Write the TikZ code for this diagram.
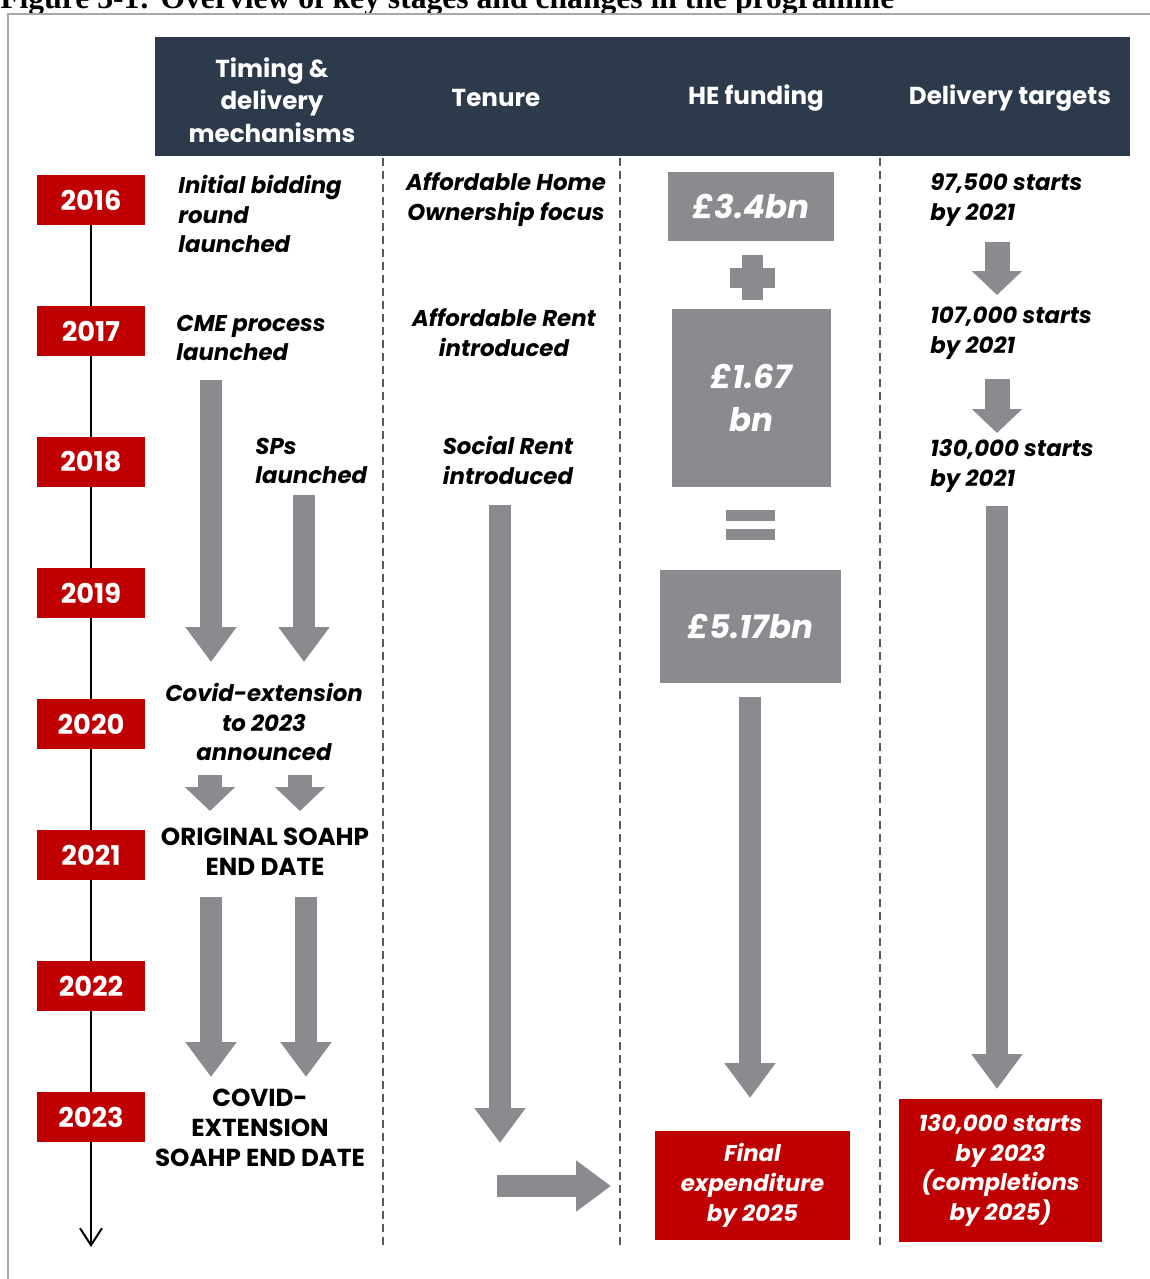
\documentclass[tikz,border=0pt]{standalone}
\usepackage{fontspec}
\setmainfont{Poppins}
\newfontfamily\titlefont{Liberation Serif}
\usetikzlibrary{arrows.meta, positioning}

\definecolor{hdrblue}{HTML}{2C3A4C}
\definecolor{yearred}{HTML}{C00000}
\definecolor{boxgrey}{HTML}{8A8B8F}
\definecolor{framegrey}{HTML}{A8A8A8}

\begin{document}
\begin{tikzpicture}[x=0.02cm, y=-0.02cm,
                year/.style={fill=yearred, text=white, inner sep=0pt,
                  minimum width=2.16cm, minimum height=1cm,
                  font=\bfseries\fontsize{15.5}{17}\selectfont},
                hdr/.style={text=white, align=center, inner sep=0pt,
                  font=\bfseries\fontsize{14}{18.5}\selectfont},
                note/.style={align=left, inner sep=0pt,
                  font=\bfseries\itshape\fontsize{13}{17}\selectfont},
                caps/.style={align=center, inner sep=0pt,
                  font=\bfseries\fontsize{14}{17}\selectfont},
                money/.style={fill=boxgrey, text=white, align=center, inner sep=0pt,
                  font=\bfseries\itshape\fontsize{18.5}{24}\selectfont},
                redbox/.style={fill=yearred, text=white, align=center, inner sep=0pt,
                  font=\bfseries\itshape\fontsize{13}{17}\selectfont},
                sep/.style={black!65, line width=0.03cm, dash pattern=on 0.16cm off 0.1cm},
                timeline/.style={black, line width=0.04cm},
                bigarrow/.style={boxgrey, line width=0.45cm,
                  -{Triangle[width=0.98cm, length=0.7cm]}},
                smallarrow/.style={boxgrey, line width=0.5cm,
                  -{Triangle[width=0.98cm, length=0.48cm]}}
            ]
            \useasboundingbox (0,0) rectangle (1150,1279);
            \clip (0,0) rectangle (1150,1279);

            % title and frame
            \node[anchor=base west, inner sep=0pt,
              font=\titlefont\bfseries\fontsize{18}{20}\selectfont] (title) at (0,8)
              {Figure 3-1: Overview of key stages and changes in the programme};
            \draw[framegrey, line width=0.04cm] (8,1290) -- (8,14) -- (1160,14);

            % header
            \fill[hdrblue] (155,37) rectangle (1130,156);
            \node[hdr] (h-timing) at (272,100) {Timing \&\\delivery\\mechanisms};
            \node[hdr] (h-tenure) at (496,98) {Tenure};
            \node[hdr] (h-funding) at (756,98) {HE funding};
            \node[hdr] (h-targets) at (1010,98) {Delivery targets};

            % column separators
            \draw[sep] (383,158) -- (383,1245);
            \draw[sep] (620,158) -- (620,1245);
            \draw[sep] (880,158) -- (880,1245);

            % timeline
            \foreach \yr [count=\i from 0] in {2016,2017,2018,2019,2020,2021,2022,2023}
              \node[year] (y\yr) at (91,200+131*\i) {\yr};
            \foreach \a/\b in {2016/2017,2017/2018,2018/2019,2019/2020,2020/2021,2021/2022,2022/2023}
              \draw[timeline] (y\a) -- (y\b);
            \coordinate (tl-end) at (91,1247);
            \draw[timeline, -{Straight Barb[length=0.34cm, width=0.44cm, line width=0.04cm]}] (y2023) -- (tl-end);

            % timing & delivery mechanisms
            \node[note, anchor=west] (bidding) at (178,214) {Initial bidding\\round\\launched};
            \node[note, anchor=west] (cme) at (176,338) {CME process\\launched};
            \node[note, anchor=west] (sps) at (255,461) {SPs\\launched};
            \node[note, align=center] (covid) at (264,722) {Covid-extension\\to 2023\\announced};
            \node[caps] (orig) at (265,852) {ORIGINAL SOAHP\\END DATE};
            \node[caps] (cext) at (260,1128) {COVID-\\EXTENSION\\SOAHP END DATE};

            \coordinate (cme-a) at (211,380);  \coordinate (cme-b) at (211,662);
            \coordinate (sps-a) at (304,495);  \coordinate (sps-b) at (304,662);
            \coordinate (cov-a) at (210,775);  \coordinate (cov-b) at (210,811);
            \coordinate (cov-c) at (300,775);  \coordinate (cov-d) at (300,811);
            \coordinate (org-a) at (211,897);  \coordinate (org-b) at (211,1077);
            \coordinate (org-c) at (306,897);  \coordinate (org-d) at (306,1077);
            \draw[bigarrow] (cme-a) -- (cme-b);
            \draw[bigarrow] (sps-a) -- (sps-b);
            \draw[smallarrow] (cov-a) -- (cov-b);
            \draw[smallarrow] (cov-c) -- (cov-d);
            \draw[bigarrow] (org-a) -- (org-b);
            \draw[bigarrow] (org-c) -- (org-d);

            % tenure
            \node[note, align=center] (aho) at (506,200) {Affordable Home\\Ownership focus};
            \node[note, align=center] (arent) at (504,333) {Affordable Rent\\introduced};
            \node[note, align=center] (srent) at (508,460) {Social Rent\\introduced};
            \coordinate (ten-a) at (500,505);  \coordinate (ten-b) at (500,1143);
            \coordinate (ten-c) at (497,1186); \coordinate (ten-d) at (611,1186);
            \draw[bigarrow] (ten-a) -- (ten-b);
            \draw[bigarrow] (ten-c) -- (ten-d);

            % HE funding
            \node[money, minimum width=3.32cm, minimum height=1.38cm] (f34) at (751,206.5) {£3.4bn};
            \fill[boxgrey] (742,255) rectangle (763,300);
            \fill[boxgrey] (730,268) rectangle (775,288);
            \node[money, minimum width=3.18cm, minimum height=3.56cm] (f167) at (751.5,398) {£1.67\\bn};
            \fill[boxgrey] (726,510) rectangle (775,521);
            \fill[boxgrey] (726,529) rectangle (775,540);
            \node[money, minimum width=3.62cm, minimum height=2.26cm] (f517) at (750.5,626.5) {£5.17bn};
            \coordinate (fund-a) at (750,697); \coordinate (fund-b) at (750,1098);
            \draw[bigarrow] (fund-a) -- (fund-b);
            \node[redbox, minimum width=3.9cm, minimum height=2.18cm] (final) at (752.5,1185.5)
              {Final\\expenditure\\by 2025};

            % delivery targets
            \node[note, anchor=west] (t1) at (930,200) {97,500 starts\\by 2021};
            \node[note, anchor=west] (t2) at (930,333) {107,000 starts\\by 2021};
            \node[note, anchor=west] (t3) at (930,466) {130,000 starts\\by 2021};
            \coordinate (tg-a) at (997,242);  \coordinate (tg-b) at (997,295);
            \coordinate (tg-c) at (997,379);  \coordinate (tg-d) at (997,433);
            \coordinate (tg-e) at (997,506);  \coordinate (tg-f) at (997,1089);
            \draw[smallarrow] (tg-a) -- (tg-b);
            \draw[smallarrow] (tg-c) -- (tg-d);
            \draw[bigarrow] (tg-e) -- (tg-f);
            \node[redbox, minimum width=4.06cm, minimum height=2.86cm] (final-tg) at (1000.5,1170.5)
              {130,000 starts\\by 2023\\(completions\\by 2025)};
            \end{tikzpicture}
\end{document}
